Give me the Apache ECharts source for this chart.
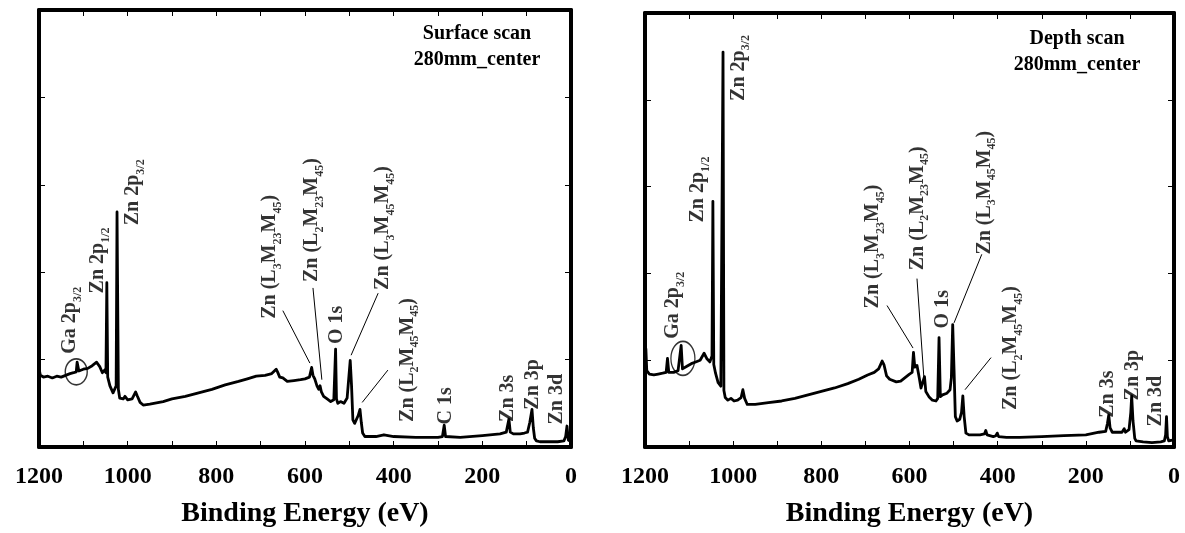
<!DOCTYPE html>
<html>
<head>
<meta charset="utf-8">
<script src="https://cdn.jsdelivr.net/npm/echarts@6/dist/echarts.min.js"></script>
<style>
  html, body { margin: 0; padding: 0; background: #fff; }
  #chart { width: 1185px; height: 533px; }
</style>
</head>
<body>
<div id="chart"></div>
<script>
// surface scan spectrum (binding energy in eV, intensity in arbitrary units)
var surfaceEV = [1200, 1197, 1190, 1180, 1170, 1160, 1150, 1140, 1130, 1122, 1119, 1116, 1114, 1110, 1100, 1090, 1080, 1070, 1063, 1057, 1052, 1049, 1047, 1045, 1040, 1033, 1029, 1026, 1024, 1021, 1018, 1010, 1006, 1000, 990, 982, 978, 972, 965, 950, 920, 900, 870, 840, 810, 780, 750, 730, 710, 690, 675, 665, 662, 657, 650, 640, 625, 610, 600, 590, 585, 582, 578, 573, 569, 566, 563, 558, 550, 542, 535, 531, 529, 526, 520, 512, 505, 498, 495, 492, 488, 484, 480, 476, 473, 470, 465, 440, 422, 418, 400, 350, 300, 290, 286, 283, 280, 250, 200, 160, 146, 140, 137, 130, 115, 105, 98, 93, 88, 85, 82, 78, 70, 50, 30, 16, 12, 9, 6, 3, 0];
var surfaceCounts = [0.90, 0.82, 0.80, 0.81, 0.79, 0.81, 0.80, 0.82, 0.84, 0.85, 0.87, 0.86, 0.97, 0.87, 0.89, 0.90, 0.93, 0.97, 0.92, 0.85, 0.88, 0.85, 1.88, 0.80, 0.70, 0.62, 0.64, 0.70, 2.69, 0.66, 0.56, 0.55, 0.58, 0.54, 0.55, 0.63, 0.58, 0.51, 0.48, 0.49, 0.52, 0.55, 0.58, 0.62, 0.66, 0.71, 0.75, 0.78, 0.81, 0.82, 0.84, 0.89, 0.86, 0.80, 0.79, 0.75, 0.76, 0.77, 0.78, 0.80, 0.91, 0.82, 0.78, 0.70, 0.66, 0.70, 0.63, 0.58, 0.55, 0.52, 0.54, 1.12, 0.55, 0.50, 0.52, 0.50, 0.56, 0.99, 0.70, 0.31, 0.27, 0.29, 0.36, 0.43, 0.28, 0.16, 0.12, 0.12, 0.14, 0.12, 0.12, 0.11, 0.11, 0.12, 0.25, 0.12, 0.11, 0.11, 0.13, 0.15, 0.17, 0.32, 0.17, 0.15, 0.15, 0.16, 0.17, 0.28, 0.43, 0.22, 0.10, 0.07, 0.06, 0.06, 0.06, 0.07, 0.12, 0.24, 0.08, 0.06, 0.06];

// depth scan spectrum
var depthEV = [1200, 1198, 1196, 1190, 1180, 1170, 1160, 1152, 1149, 1146, 1135, 1125, 1121, 1118, 1115, 1105, 1095, 1085, 1075, 1066, 1060, 1053, 1048, 1046, 1044, 1040, 1034, 1028, 1023, 1021, 1018, 1012, 1005, 998, 990, 982, 978, 974, 968, 950, 920, 890, 860, 830, 800, 770, 740, 715, 695, 680, 670, 662, 658, 652, 645, 630, 620, 610, 600, 594, 591, 588, 583, 578, 574, 570, 566, 563, 556, 548, 540, 536, 533, 530, 525, 515, 508, 505, 502, 499, 496, 492, 486, 482, 479, 476, 472, 465, 440, 430, 427, 424, 410, 404, 401, 398, 380, 350, 300, 250, 200, 170, 155, 151, 148, 145, 140, 130, 118, 113, 110, 102, 98, 96, 93, 89, 86, 70, 50, 30, 22, 19, 17, 15, 12, 8, 4, 0];
var depthCounts = [0.85, 1.13, 0.88, 0.84, 0.83, 0.84, 0.85, 0.86, 1.02, 0.86, 0.86, 0.88, 0.90, 1.17, 0.90, 0.93, 0.96, 0.98, 1.00, 1.08, 1.02, 0.98, 1.05, 2.83, 0.95, 0.85, 0.74, 0.70, 4.55, 0.65, 0.57, 0.54, 0.56, 0.53, 0.54, 0.57, 0.66, 0.56, 0.49, 0.49, 0.51, 0.53, 0.56, 0.60, 0.64, 0.68, 0.73, 0.78, 0.83, 0.86, 0.90, 0.99, 0.95, 0.82, 0.78, 0.75, 0.76, 0.80, 0.84, 0.86, 1.09, 0.92, 0.94, 0.80, 0.68, 0.70, 0.81, 0.64, 0.58, 0.54, 0.53, 0.56, 1.26, 0.58, 0.60, 0.62, 0.66, 0.80, 1.41, 0.90, 0.35, 0.30, 0.32, 0.40, 0.59, 0.35, 0.16, 0.14, 0.14, 0.15, 0.19, 0.14, 0.12, 0.13, 0.16, 0.12, 0.11, 0.11, 0.12, 0.13, 0.14, 0.17, 0.18, 0.27, 0.37, 0.22, 0.17, 0.17, 0.17, 0.21, 0.17, 0.20, 0.40, 0.59, 0.30, 0.10, 0.07, 0.06, 0.05, 0.06, 0.07, 0.14, 0.35, 0.12, 0.07, 0.07, 0.08, 0.09];

// tick labels on the energy axis
var energyTickLabels = [1200, 1000, 800, 600, 400, 200, 0];

// peak labels: [text, eV, intensity at label start]
var surfaceLabels = [
  ['Ga 2p{s|3/2}', 1130, 1.13],
  ['Zn 2p{s|1/2}', 1067, 1.82],
  ['Zn 2p{s|3/2}', 988, 2.60],
  ['Zn (L{s|3}M{s|23}M{s|45})', 679, 1.53],
  ['Zn (L{s|2}M{s|23}M{s|45})', 584, 1.95],
  ['O 1s', 526, 1.24],
  ['Zn (L{s|3}M{s|45}M{s|45})', 424, 1.86],
  ['Zn (L{s|2}M{s|45}M{s|45})', 368, 0.35],
  ['C 1s', 282, 0.32],
  ['Zn 3s', 142, 0.35],
  ['Zn 3p', 86, 0.49],
  ['Zn 3d', 31, 0.32]
];
var depthLabels = [
  ['Ga 2p{s|3/2}', 1136, 1.31],
  ['Zn 2p{s|1/2}', 1078, 2.65],
  ['Zn 2p{s|3/2}', 987, 4.05],
  ['Zn (L{s|3}M{s|23}M{s|45})', 683, 1.66],
  ['Zn (L{s|2}M{s|23}M{s|45})', 581, 2.10],
  ['O 1s', 524, 1.43],
  ['Zn (L{s|3}M{s|45}M{s|45})', 429, 2.28],
  ['Zn (L{s|2}M{s|45}M{s|45})', 368, 0.49],
  ['Zn 3s', 150, 0.40],
  ['Zn 3p', 93, 0.60],
  ['Zn 3d', 39, 0.30]
];

// leader lines from Auger labels to peaks
var surfaceLeaders = [
  [[650, 1.56], [589, 0.96]],
  [[582, 1.82], [562, 0.77]],
  [[435, 1.76], [496, 1.05]],
  [[413, 0.88], [471, 0.51]]
];
var depthLeaders = [
  [[651, 1.63], [592, 1.14]],
  [[583, 1.94], [567, 0.77]],
  [[436, 2.22], [499, 1.43]],
  [[415, 1.03], [474, 0.66]]
];

// Ga circles: [eV, intensity]
var surfaceGaMark = [[1116, 0.86]];
var depthGaMark = [[1114, 1.02]];

var FONT = 'Liberation Serif';

function xAxisOf(grid, pos) {
  var bottom = pos === 'bottom';
  return {
    type: 'value', gridIndex: grid, position: pos, inverse: true,
    min: 0, max: 1200, interval: 100,
    axisLine: { show: true, onZero: false, lineStyle: { color: '#000', width: 4 } },
    axisTick: { show: true, inside: true, length: 6, lineStyle: { color: '#000', width: 1 } },
    splitLine: { show: false },
    axisLabel: {
      show: bottom, margin: 18, color: '#000', fontFamily: FONT, fontWeight: 'bold', fontSize: 24,
      formatter: function (v) { return energyTickLabels.indexOf(v) > -1 ? String(v) : ''; }
    },
    name: bottom ? 'Binding Energy (eV)' : '',
    nameLocation: 'middle', nameGap: 53,
    nameTextStyle: { color: '#000', fontFamily: FONT, fontWeight: 'bold', fontSize: 28 }
  };
}

function yAxisOf(grid, pos) {
  return {
    type: 'value', gridIndex: grid, position: pos,
    min: 0, max: 5, interval: 1,
    axisLine: { show: true, onZero: false, lineStyle: { color: '#000', width: 4 } },
    axisTick: { show: true, inside: true, length: 6, lineStyle: { color: '#000', width: 1 } },
    splitLine: { show: false },
    axisLabel: { show: false }
  };
}

function spectrumSeries(idx, ev, counts) {
  return {
    type: 'line', xAxisIndex: idx * 2, yAxisIndex: idx * 2, z: 5,
    data: ev.map(function (e, i) { return [e, counts[i]]; }),
    symbol: 'none', silent: true,
    lineStyle: { color: '#000', width: 2.8, join: 'round' }
  };
}

// label offset is given in the rotated text frame: -x moves it down the page
function labelSeries(idx, labels) {
  return {
    type: 'scatter', xAxisIndex: idx * 2, yAxisIndex: idx * 2, silent: true,
    symbol: 'circle', symbolSize: 1, itemStyle: { color: 'rgba(0,0,0,0)' },
    data: labels.map(function (l) { return [l[1], l[2], l[0]]; }),
    label: {
      show: true, position: [0, 0], offset: [-6, 0], rotate: 90, align: 'left', verticalAlign: 'middle',
      color: '#000', fontFamily: FONT, fontWeight: 'bold', fontSize: 20, lineHeight: 28,
      formatter: function (p) { return p.data[2]; },
      rich: {
        s: { fontFamily: FONT, fontWeight: 'bold', fontSize: 12, lineHeight: 12, verticalAlign: 'bottom', color: '#000' }
      }
    }
  };
}

function leaderSeries(idx, leaders) {
  return leaders.map(function (seg) {
    return {
      type: 'line', xAxisIndex: idx * 2, yAxisIndex: idx * 2, silent: true,
      data: seg, symbol: 'none', lineStyle: { color: '#000', width: 1 }
    };
  });
}

function markSeries(idx, pts, size) {
  return {
    type: 'scatter', xAxisIndex: idx * 2, yAxisIndex: idx * 2, silent: true,
    data: pts, symbol: 'circle', symbolSize: size,
    itemStyle: { color: 'rgba(0,0,0,0)', borderColor: '#000', borderWidth: 1.5 }
  };
}

var chart = echarts.init(document.getElementById('chart'));
var option = {
  backgroundColor: '#fff',
  animation: false,
  title: [
    {
      text: 'Surface scan\n280mm_center', left: 472, top: 16, textAlign: 'center',
      textStyle: { color: '#000', fontFamily: FONT, fontWeight: 'bold', fontSize: 20, lineHeight: 26 }
    },
    {
      text: 'Depth scan\n280mm_center', left: 1072, top: 21, textAlign: 'center',
      textStyle: { color: '#000', fontFamily: FONT, fontWeight: 'bold', fontSize: 20, lineHeight: 26 }
    }
  ],
  grid: [
    { left: 39, right: 614, top: 10, bottom: 80 },
    { left: 645, right: 11, top: 13, bottom: 80 }
  ],
  xAxis: [xAxisOf(0, 'bottom'), xAxisOf(0, 'top'), xAxisOf(1, 'bottom'), xAxisOf(1, 'top')],
  yAxis: [yAxisOf(0, 'left'), yAxisOf(0, 'right'), yAxisOf(1, 'left'), yAxisOf(1, 'right')],
  series: [
    spectrumSeries(0, surfaceEV, surfaceCounts),
    spectrumSeries(1, depthEV, depthCounts),
    labelSeries(0, surfaceLabels),
    labelSeries(1, depthLabels),
    markSeries(0, surfaceGaMark, [22, 26]),
    markSeries(1, depthGaMark, [24, 34])
  ].concat(leaderSeries(0, surfaceLeaders), leaderSeries(1, depthLeaders))
};
chart.setOption(option);

window.addEventListener('resize', function () { chart.resize(); });
</script>
</body>
</html>
